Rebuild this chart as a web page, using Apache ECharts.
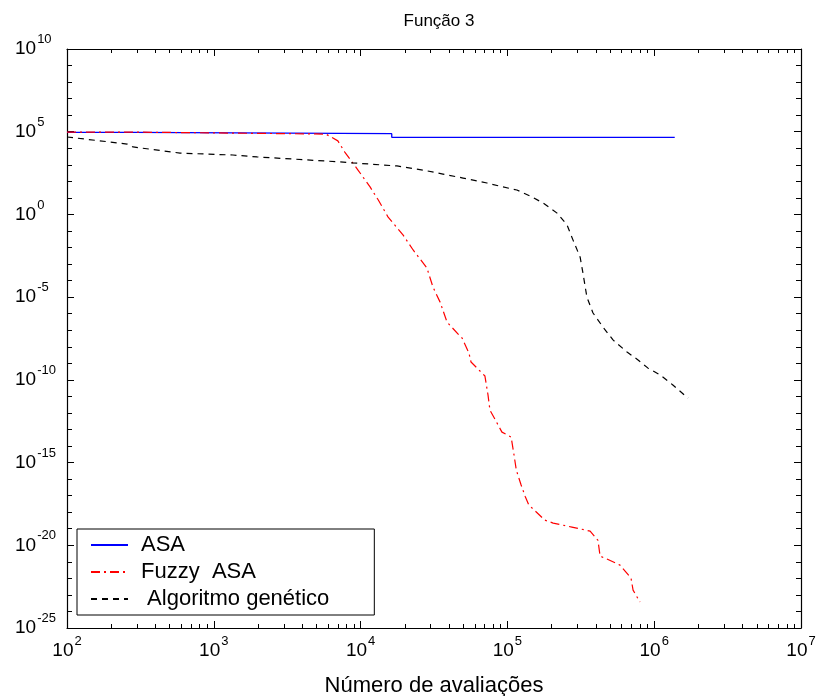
<!DOCTYPE html>
<html>
<head>
<meta charset="utf-8">
<script src="https://cdn.jsdelivr.net/npm/echarts@6/dist/echarts.min.js"></script>
<style>
html, body { margin: 0; padding: 0; background: #fff; }
#chart { width: 819px; height: 696px; }
</style>
</head>
<body>
<div id="chart"></div>
<script>
// número de avaliações (x) e valor da função (y) para cada método
const asaX = [100, 283, 283, 16300, 16300, 1.38e6];
const asaY = [9.1e4, 9.1e4, 7.6e4, 7.6e4, 4.6e4, 4.6e4];

const fuzzyX = [100, 283, 283, 5.8e3, 7.0e3, 7.8e3, 9.6e3, 1.16e4, 1.32e4, 1.54e4,
  1.95e4, 2.28e4, 2.83e4, 3.11e4, 3.48e4, 3.88e4, 4.68e4, 4.91e4, 5.47e4, 5.65e4,
  7.03e4, 7.38e4, 7.60e4, 8.36e4, 9.18e4, 1.06e5, 1.11e5, 1.15e5, 1.24e5, 1.32e5,
  1.40e5, 1.80e5, 2.05e5, 2.75e5, 3.66e5, 4.14e5, 4.28e5, 4.76e5, 5.85e5, 6.95e5,
  7.18e5, 8.0e5];
const fuzzyY = [9.5e4, 9.5e4, 7.2e4, 7.2e4, 2.8e4, 5.9e3, 4.8e2, 46, 7.4, 0.69,
  5.6e-2, 7.1e-3, 5.8e-4, 4.1e-5, 5.0e-6, 3.1e-7, 5.1e-8, 3.4e-8, 4.2e-9, 1.2e-9,
  1.7e-10, 1.2e-11, 1.5e-12, 3.2e-13, 6.9e-14, 3.5e-14, 2.8e-15, 3.5e-16, 4.4e-17, 9.3e-18,
  2.7e-18, 3.3e-19, 2.2e-19, 1.26e-19, 7.2e-20, 2.0e-20, 2.2e-21, 1.5e-21, 6.3e-22, 1.05e-22,
  1.95e-23, 3.7e-24];

const gaX = [100, 257, 282, 589, 1350, 1970, 7240, 8870, 1.77e4, 2.66e4,
  3.64e4, 4.99e4, 7.26e4, 9.33e4, 1.16e5, 1.43e5, 1.75e5, 2.18e5, 2.55e5, 2.80e5,
  3.13e5, 3.27e5, 3.48e5, 3.83e5, 4.48e5, 5.24e5, 6.53e5, 7.76e5, 9.08e5, 1.10e6,
  1.34e6, 1.70e6];
const gaY = [4.8e4, 1.8e4, 1.2e4, 5.1e3, 3.9e3, 3.0e3, 1.5e3, 1.3e3, 850, 480,
  275, 158, 79, 46, 30, 12.9, 4.9, 1.2, 0.23, 2.8e-2,
  2.6e-3, 2.9e-4, 1.0e-5, 1.1e-6, 1.55e-7, 2.6e-8, 4.8e-9, 1.6e-9, 5.1e-10, 1.95e-10,
  4.9e-11, 7.9e-12];

const seriesNames = ['ASA', 'Fuzzy  ASA', ' Algoritmo genético'];

// o eixo log do echarts 6 arredonda 1e-25 para 0, por isso o eixo y
// trabalha com o expoente (log10) e os rótulos mostram 10^n
const yMinExp = -25;
const yMaxExp = 10;

const chart = echarts.init(document.getElementById('chart'));

function pairs(xs, ys) {
  return xs.map((x, i) => [x, Math.log10(ys[i])]);
}

const font = 'Liberation Sans, Arial, sans-serif';
const rich = {
  b: { fontSize: 19, lineHeight: 20, padding: [10, 0, 10, 0], color: '#000', fontFamily: font },
  e: { fontSize: 13, lineHeight: 14, padding: [0, 0, 19, 1], color: '#000', fontFamily: font }
};

const tick = { inside: true, length: 7, lineStyle: { color: '#000', width: 1 } };
const line = { show: true, onZero: false, lineStyle: { color: '#000', width: 1.2 } };

function xAx(pos, labels) {
  return {
    type: 'log', logBase: 10, min: 100, max: 1e7, position: pos,
    axisLine: line, axisTick: tick,
    minorTick: { show: true, splitNumber: 9, length: 4, lineStyle: { color: '#000', width: 1 } },
    splitLine: { show: false }, minorSplitLine: { show: false },
    axisLabel: {
      show: labels, rich: rich, margin: 13,
      formatter: v => '{b|10}{e|' + Math.round(Math.log10(v)) + '}'
    },
    name: labels ? 'Número de avaliações' : '',
    nameLocation: 'middle', nameGap: 44,
    nameTextStyle: { fontSize: 22, color: '#000', fontFamily: font }
  };
}

function yAx(pos, labels) {
  return {
    type: 'value', min: yMinExp, max: yMaxExp, interval: 5, position: pos,
    axisLine: line, axisTick: tick,
    minorTick: { show: true, splitNumber: 5, length: 5, lineStyle: { color: '#000', width: 1 } },
    splitLine: { show: false }, minorSplitLine: { show: false },
    axisLabel: {
      show: labels, rich: rich, margin: 52, align: 'left',
      formatter: v => '{b|10}{e|' + Math.round(v) + '}'
    }
  };
}

chart.setOption({
  backgroundColor: '#fff',
  animation: false,
  title: {
    text: 'Função 3', left: 434, top: 8, textAlign: 'center',
    textStyle: { fontSize: 17, fontWeight: 'normal', color: '#000', fontFamily: font }
  },
  grid: { left: 67, right: 18, top: 49, bottom: 68, containLabel: false, outerBoundsMode: 'none' },
  xAxis: [xAx('bottom', true), xAx('top', false)],
  yAxis: [yAx('left', true), yAx('right', false)],
  legend: {
    data: seriesNames, orient: 'vertical', left: 77, top: 529,
    backgroundColor: '#fff', borderColor: '#000', borderWidth: 1,
    padding: [5, 45, 5, 13], itemGap: 5, itemWidth: 37, itemHeight: 22,
    itemStyle: { opacity: 0 },
    textStyle: { fontSize: 22, lineHeight: 22, color: '#000', fontFamily: font, padding: [0, 0, 0, 8] }
  },
  series: [
    { name: seriesNames[0], type: 'line', data: pairs(asaX, asaY), symbol: 'none',
      lineStyle: { color: '#0000ff', width: 1.3, type: 'solid' }, itemStyle: { color: '#0000ff' } },
    { name: seriesNames[1], type: 'line', data: pairs(fuzzyX, fuzzyY), symbol: 'none',
      lineStyle: { color: '#ff0000', width: 1.2, type: [9, 4, 2, 4] }, itemStyle: { color: '#ff0000' } },
    { name: seriesNames[2], type: 'line', data: pairs(gaX, gaY), symbol: 'none',
      lineStyle: { color: '#000', width: 1.2, type: [6, 5] }, itemStyle: { color: '#000' } }
  ]
});
</script>
</body>
</html>
